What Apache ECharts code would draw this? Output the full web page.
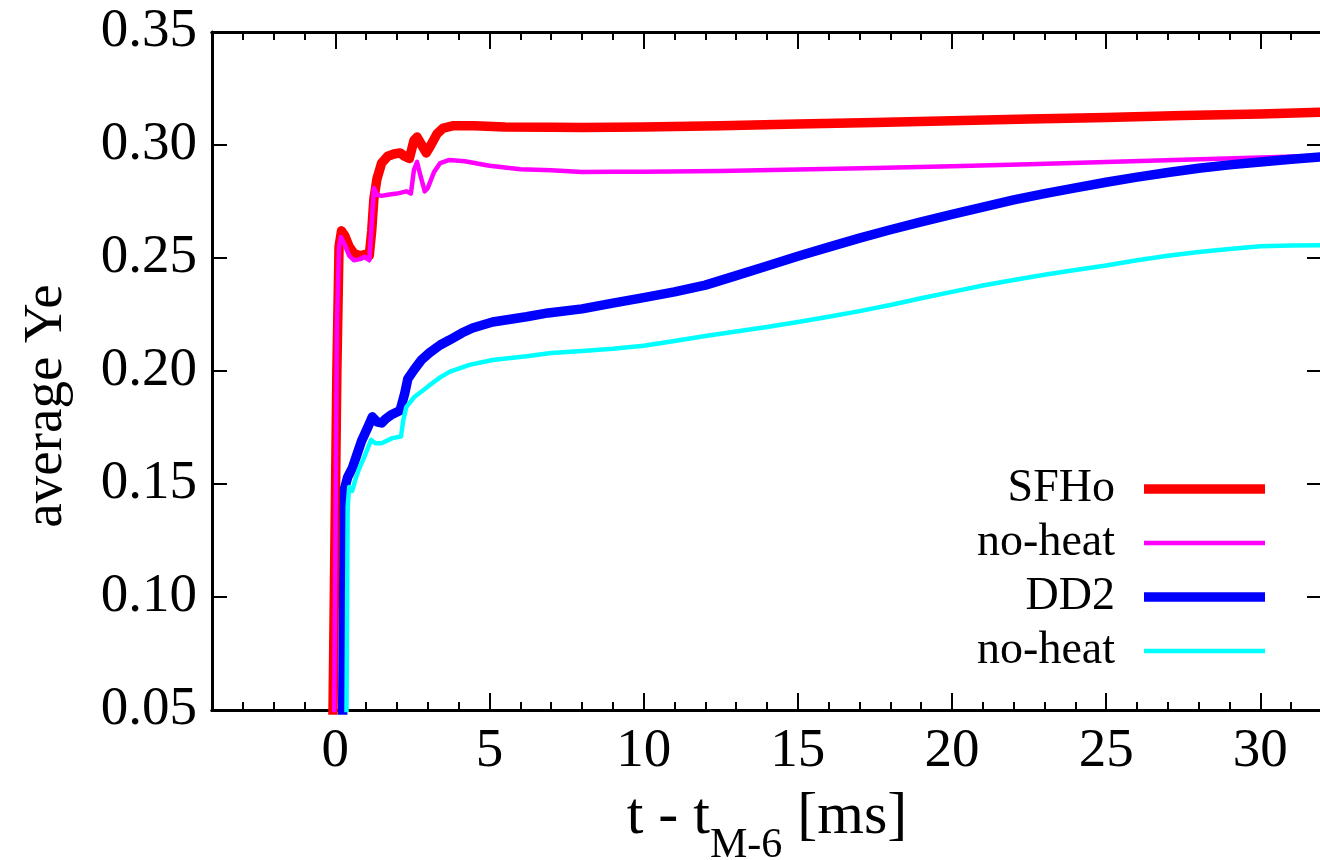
<!DOCTYPE html>
<html>
<head>
<meta charset="utf-8">
<script src="https://cdn.jsdelivr.net/npm/echarts@6/dist/echarts.min.js"></script>
<style>
  html, body { margin: 0; padding: 0; background: #fff; }
  #chart { width: 1320px; height: 860px; }
</style>
</head>
<body>
<div id="chart"></div>
<script>
// Time since merger [ms] and mass-averaged electron fraction for each run
const sfhoTime = [-0.1, 0.05, 0.12, 0.2, 0.3, 0.45, 0.6, 0.8, 0.95, 1.1, 1.18, 1.25, 1.35, 1.5, 1.7, 1.9, 2.1, 2.25, 2.4, 2.55, 2.65, 2.8, 2.95, 3.1, 3.3, 3.5, 3.8, 4.5, 5.5, 7, 8, 10, 12.5, 15, 17.5, 20, 22.5, 25, 27.5, 30, 32];
const sfhoYe   = [0.02, 0.20, 0.255, 0.262, 0.260, 0.255, 0.252, 0.251, 0.2515, 0.251, 0.262, 0.276, 0.285, 0.292, 0.295, 0.296, 0.2965, 0.295, 0.294, 0.302, 0.3035, 0.300, 0.2965, 0.300, 0.305, 0.3075, 0.3085, 0.3085, 0.308, 0.3078, 0.3077, 0.308, 0.3085, 0.3093, 0.3100, 0.3107, 0.3115, 0.3122, 0.313, 0.3137, 0.3145];

const sfhoNoHeatTime = [-0.05, 0.05, 0.12, 0.18, 0.3, 0.45, 0.6, 0.8, 0.95, 1.1, 1.18, 1.25, 1.35, 1.5, 1.7, 2.0, 2.3, 2.45, 2.55, 2.65, 2.75, 2.9, 3.0, 3.2, 3.4, 3.7, 4.2, 5.0, 6.0, 7.0, 8.0, 9, 10, 12.5, 15, 17.5, 20, 22.5, 25, 27.5, 30, 32];
const sfhoNoHeatYe   = [0.02, 0.22, 0.255, 0.2593, 0.256, 0.251, 0.249, 0.2495, 0.2505, 0.249, 0.265, 0.281, 0.278, 0.2775, 0.278, 0.2785, 0.2795, 0.2785, 0.289, 0.2925, 0.287, 0.2795, 0.281, 0.288, 0.292, 0.2934, 0.2928, 0.2908, 0.2893, 0.2888, 0.288, 0.2882, 0.2882, 0.2885, 0.2892, 0.2898, 0.2906, 0.2915, 0.2925, 0.2935, 0.2945, 0.2953];

const dd2Time = [0.22, 0.3, 0.4, 0.55, 0.7, 0.85, 1.05, 1.2, 1.35, 1.5, 1.65, 1.8, 2.1, 2.25, 2.35, 2.55, 2.8, 3.05, 3.4, 3.7, 4.1, 4.45, 5.1, 6.2, 6.9, 8, 9, 10, 11, 12, 13, 14, 15, 16, 17, 18, 19, 20, 21, 22, 23, 24, 25, 26, 27, 28, 29, 30, 31, 32];
const dd2Ye   = [0.02, 0.148, 0.153, 0.157, 0.163, 0.169, 0.175, 0.1797, 0.1775, 0.177, 0.179, 0.1805, 0.1825, 0.190, 0.1965, 0.2005, 0.205, 0.208, 0.2115, 0.2137, 0.2168, 0.219, 0.2217, 0.224, 0.2257, 0.2275, 0.230, 0.2325, 0.235, 0.238, 0.2422, 0.2465, 0.2508, 0.2548, 0.2588, 0.2625, 0.266, 0.2693, 0.2725, 0.2757, 0.2785, 0.281, 0.2835, 0.2858, 0.2878, 0.2897, 0.2912, 0.2925, 0.2937, 0.2948];

const dd2NoHeatTime = [0.35, 0.4, 0.45, 0.55, 0.65, 0.75, 0.94, 1.16, 1.3, 1.5, 1.85, 2.13, 2.2, 2.3, 2.56, 2.85, 3.15, 3.4, 3.7, 4.35, 5.1, 6.2, 7, 8, 9, 10, 11, 12, 13, 14, 15, 16, 17, 18, 19, 20, 21, 22, 23, 24, 25, 26, 27, 28, 29, 30, 31, 32];
const dd2NoHeatYe   = [0.02, 0.14, 0.1487, 0.147, 0.152, 0.156, 0.162, 0.1695, 0.168, 0.168, 0.1703, 0.171, 0.178, 0.184, 0.1885, 0.1915, 0.1947, 0.1972, 0.1996, 0.2027, 0.2049, 0.2065, 0.208, 0.2088, 0.2098, 0.2112, 0.2133, 0.2155, 0.2175, 0.2195, 0.2217, 0.224, 0.2265, 0.2292, 0.2322, 0.235, 0.2378, 0.2403, 0.2426, 0.2447, 0.2467, 0.249, 0.251, 0.2527, 0.254, 0.2552, 0.2555, 0.2556];

// Axis ticks
const xMajorTicks = [0, 5, 10, 15, 20, 25, 30];
const xMinorTicks = [-4, -3, -2, -1, 1, 2, 3, 4, 6, 7, 8, 9, 11, 12, 13, 14, 16, 17, 18, 19, 21, 22, 23, 24, 26, 27, 28, 29, 31, 32];

const seriesNames = ['SFHo', 'SFHo-noheat', 'DD2', 'DD2-noheat'];
const legendLabels = ['SFHo', 'no-heat', 'DD2', 'no-heat'];
const seriesColors = ['#ff0000', '#ff00ff', '#0000ff', '#00ffff'];
const seriesWidths = [9.5, 4.5, 9.5, 4.5];

function pairs(ts, ys) { return ts.map((t, i) => [t, ys[i]]); }
const seriesData = [
  pairs(sfhoTime, sfhoYe),
  pairs(sfhoNoHeatTime, sfhoNoHeatYe),
  pairs(dd2Time, dd2Ye),
  pairs(dd2NoHeatTime, dd2NoHeatYe)
];

const FONT = "'Liberation Serif', 'Times New Roman', serif";
const AXIS_COLOR = '#000';
const LEGEND_SAMPLE_LEN = 121;

function xAxisBase(position, ticks, len, showLabels) {
  return {
    type: 'value', position: position, min: -4, max: 32,
    axisLine: { show: true, onZero: false, lineStyle: { color: AXIS_COLOR, width: 3 } },
    axisTick: { show: true, inside: true, length: len, customValues: ticks, lineStyle: { color: AXIS_COLOR, width: 2 } },
    axisLabel: showLabels ? {
      show: true, customValues: ticks, margin: 14, color: '#000',
      fontFamily: FONT, fontSize: 55, formatter: v => String(v)
    } : { show: false },
    splitLine: { show: false }
  };
}

const chart = echarts.init(document.getElementById('chart'), null, { renderer: 'canvas' });
chart.setOption({
  animation: false,
  backgroundColor: '#fff',
  grid: { left: 212, top: 32, width: 1110, height: 678, containLabel: false, outerBoundsMode: 'none' },
  xAxis: [
    Object.assign(xAxisBase('bottom', xMajorTicks, 17, true), {
      name: '{a|t - t}{s|M-6}{a| [ms]}',
      nameLocation: 'middle', nameGap: 77,
      nameTextStyle: {
        rich: {
          a: { fontFamily: FONT, fontSize: 60, lineHeight: 58, color: '#000', verticalAlign: 'top' },
          s: { fontFamily: FONT, fontSize: 42, lineHeight: 80, color: '#000', verticalAlign: 'bottom' }
        }
      }
    }),
    xAxisBase('bottom', xMinorTicks, 8, false),
    xAxisBase('top', xMajorTicks, 17, false),
    xAxisBase('top', xMinorTicks, 8, false)
  ],
  yAxis: [
    {
      type: 'value', position: 'left', min: 0.05, max: 0.35, interval: 0.05,
      axisLine: { show: true, onZero: false, lineStyle: { color: AXIS_COLOR, width: 3 } },
      axisTick: { show: true, inside: true, length: 15, lineStyle: { color: AXIS_COLOR, width: 2 } },
      axisLabel: { color: '#000', fontFamily: FONT, fontSize: 55, margin: 15, formatter: v => v.toFixed(2) },
      splitLine: { show: false },
      name: 'average Ye', nameLocation: 'middle', nameRotate: 90, nameGap: 138,
      nameTextStyle: { fontFamily: FONT, fontSize: 55, color: '#000', padding: [0, 70, 0, 0] }
    },
    {
      type: 'value', position: 'right', min: 0.05, max: 0.35, interval: 0.05,
      axisLine: { show: true, onZero: false, lineStyle: { color: AXIS_COLOR, width: 3 } },
      axisTick: { show: true, inside: true, length: 15, lineStyle: { color: AXIS_COLOR, width: 2 } },
      axisLabel: { show: false },
      splitLine: { show: false }
    }
  ],
  legend: {
    orient: 'vertical', align: 'right',
    right: 55, top: 466, padding: 0,
    itemWidth: LEGEND_SAMPLE_LEN, itemHeight: 14, itemGap: 8,
    symbolKeepAspect: true,
    // each key sample is a bar as thick as its curve
    data: seriesNames.map((n, i) => ({
      name: n,
      icon: 'path://M0,0H' + LEGEND_SAMPLE_LEN + 'V' + seriesWidths[i] + 'H0Z'
    })),
    formatter: name => legendLabels[seriesNames.indexOf(name)],
    textStyle: { fontFamily: FONT, fontSize: 46, color: '#000', padding: [0, 24, 0, 0] }
  },
  series: seriesNames.map((n, i) => ({
    name: n, type: 'line', xAxisIndex: 0, yAxisIndex: 0,
    data: seriesData[i], showSymbol: false, symbol: 'none', smooth: false,
    clip: true,
    lineStyle: { color: seriesColors[i], width: seriesWidths[i], join: 'round', cap: 'butt' },
    itemStyle: { color: seriesColors[i] }
  }))
});
</script>
</body>
</html>
